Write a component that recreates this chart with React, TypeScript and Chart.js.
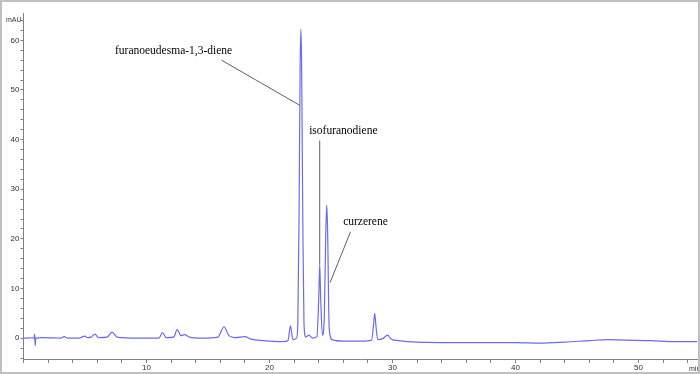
import React, { useEffect, useRef } from 'react';
import { Chart, registerables } from 'chart.js';

Chart.register(...registerables);

// Retention time (min)
const times = [
  0, 0.5, 0.85, 0.9, 0.95, 1.0, 1.5, 2.5, 3.0, 3.3, 3.6, 4.5, 5.0, 5.2, 5.5, 5.8, 6.1, 6.8, 7.2, 7.6,
  8.0, 9.0, 10.0, 11.0, 11.3, 11.6, 12.2, 12.5, 12.8, 13.1, 13.5, 14.5, 15.8, 16.3, 16.7, 17.2, 18.0,
  18.5, 19.5, 21.0, 21.5, 21.7, 21.9, 22.2, 22.3, 22.4, 22.49, 22.55, 22.61, 22.7, 22.8, 22.95, 23.2,
  23.5, 23.85, 24.0, 24.08, 24.16, 24.3, 24.45, 24.58, 24.65, 24.72, 24.85, 25.1, 26.0, 27.5, 28.3,
  28.45, 28.55, 28.65, 28.8, 29.2, 29.6, 29.9, 30.5, 32, 35, 38, 40, 42, 44, 46, 47.5, 49, 51, 53, 54.75,
];

// Absorbance (mAU)
const signal = [
  0.0, 0.05, 0.0, 0.8, -1.5, 0.0, 0.1, 0.05, 0.0, 0.3, 0.0, 0.0, 0.4, 0.1, 0.2, 0.8, 0.1, 0.2, 1.2, 0.2,
  0.1, 0.0, 0.0, 0.0, 1.1, 0.1, 0.2, 1.7, 0.5, 0.7, 0.2, 0.0, 0.2, 2.3, 0.5, 0.1, 0.3,
  -0.2, -0.5, -0.7, -0.5, 2.5, -0.3, 0.0, 3.0, 25.0, 55.0, 62.2, 55.0, 25.0, 3.0, 0.2, 0.6,
  0.0, 0.3, 8.0, 14.8, 8.0, 0.6, 4.0, 22.0, 26.8, 22.0, 2.0, -0.3, -0.6, -0.6, -0.4,
  2.5, 5.0, 2.5, -0.3, -0.1, 0.6, -0.2, -0.5, -0.8, -0.9, -0.9, -0.9, -1.0, -0.8, -0.5, -0.3, -0.4, -0.5, -0.7, -0.7,
];

// Peak annotations
const peakNames = ['furanoeudesma-1,3-diene', 'isofuranodiene', 'curzerene'];
const nameX = [12.2, 26.0, 27.8];
const nameY = [57.9, 41.7, 23.4];
const leaderX1 = [16.1, 24.08, 26.58];
const leaderY1 = [56.0, 39.8, 21.4];
const leaderX2 = [22.46, 24.08, 24.92];
const leaderY2 = [46.9, 14.8, 11.2];

const xMin = 0;
const xMax = 54.75;
const yMin = -4.2;
const yMax = 65.5;

export default function App() {
  const ref = useRef<HTMLCanvasElement>(null);

  useEffect(() => {
    const canvas = ref.current!;
    const deco = {
      id: 'deco',
      beforeDraw(chart: any) {
        const ctx = chart.ctx;
        ctx.save();
        ctx.fillStyle = '#ffffff';
        ctx.fillRect(0, 0, chart.width, chart.height);
        ctx.restore();
      },
      afterDraw(chart: any) {
        const ctx = chart.ctx;
        const xs = chart.scales.x;
        const ys = chart.scales.y;
        const area = chart.chartArea;
        ctx.save();
        // leaders
        ctx.strokeStyle = '#606060';
        ctx.lineWidth = 1;
        for (let i = 0; i < peakNames.length; i++) {
          ctx.beginPath();
          ctx.moveTo(xs.getPixelForValue(leaderX1[i]), ys.getPixelForValue(leaderY1[i]));
          ctx.lineTo(xs.getPixelForValue(leaderX2[i]), ys.getPixelForValue(leaderY2[i]));
          ctx.stroke();
        }
        ctx.fillStyle = '#000000';
        ctx.font = '11.5px "Liberation Serif", "Times New Roman", serif';
        ctx.textAlign = 'center';
        ctx.textBaseline = 'middle';
        for (let i = 0; i < peakNames.length; i++) {
          ctx.fillText(peakNames[i], xs.getPixelForValue(nameX[i]), ys.getPixelForValue(nameY[i]));
        }
        // axis units
        ctx.fillStyle = '#333333';
        ctx.font = '7px "Liberation Sans", Arial, sans-serif';
        ctx.textAlign = 'right';
        ctx.fillText('mAU', area.left - 2, area.top + 7);
        ctx.textAlign = 'left';
        ctx.fillText('min', area.right - 8, area.bottom + 10);
        // frame
        ctx.strokeStyle = '#c0c0c0';
        ctx.lineWidth = 2;
        ctx.strokeRect(1, 1, chart.width - 2, chart.height - 2);
        ctx.restore();
      },
    };

    const chart = new Chart(canvas, {
      type: 'line',
      data: {
        datasets: [
          {
            data: times.map((t, i) => ({ x: t, y: signal[i] })),
            borderColor: '#6b6bef',
            borderWidth: 1.2,
            pointRadius: 0,
            cubicInterpolationMode: 'monotone',
            fill: false,
          },
        ],
      },
      options: {
        animation: false,
        responsive: false,
        maintainAspectRatio: false,
        layout: { padding: { left: 0, right: 3, top: 13, bottom: 0 } },
        plugins: { legend: { display: false }, tooltip: { enabled: false } },
        scales: {
          x: {
            type: 'linear',
            min: xMin,
            max: xMax,
            border: { color: '#808080', width: 1 },
            grid: { drawOnChartArea: false, drawTicks: true, tickLength: 4, color: '#808080' },
            ticks: {
              stepSize: 2,
              autoSkip: false,
              maxRotation: 0,
              includeBounds: false,
              padding: 0,
              color: '#333333',
              font: { size: 8, family: '"Liberation Sans", Arial, sans-serif' },
              callback: (v: any) => (v % 10 === 0 && v !== 0 ? String(v) : ''),
            },
            afterFit: (s: any) => {
              s.height = 15;
            },
          },
          y: {
            type: 'linear',
            min: yMin,
            max: yMax,
            border: { color: '#808080', width: 1 },
            grid: { drawOnChartArea: false, drawTicks: true, tickLength: 3, color: '#808080' },
            ticks: {
              stepSize: 2,
              autoSkip: false,
              includeBounds: false,
              padding: 1,
              color: '#333333',
              font: { size: 8, family: '"Liberation Sans", Arial, sans-serif' },
              callback: (v: any) => (v % 10 === 0 ? String(v) : ''),
            },
            afterFit: (s: any) => {
              s.width = 23.5;
            },
          },
        },
      },
      plugins: [deco],
    } as any);
    return () => chart.destroy();
  }, []);

  return (
    <div style={{ position: 'absolute', left: 0, top: 0, width: 700, height: 374, background: '#fff' }}>
      <canvas ref={ref} width={700} height={374} style={{ display: 'block', width: 700, height: 374 }} />
    </div>
  );
}
